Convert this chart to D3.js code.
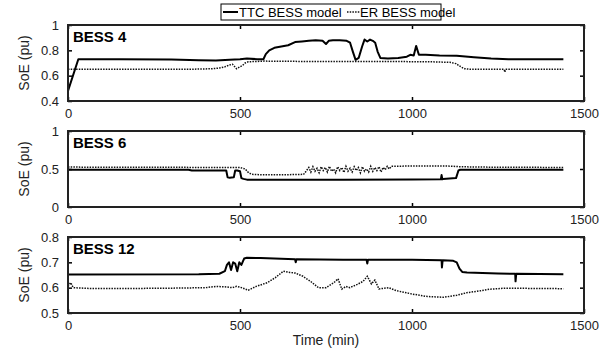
<!DOCTYPE html>
<html>
<head>
<meta charset="utf-8">
<script src="https://cdn.jsdelivr.net/npm/d3@7"></script>
<style>
  body { margin: 0; background: #fff; }
  svg { display: block; font-family: "Liberation Sans", Arial, sans-serif; }
</style>
</head>
<body>
<div id="chart"></div>
<script>
// x ticks shared by all panels
var timeTicks = [0, 500, 1000, 1500];

// BESS 4
var b4TtcT = [0, 30, 150, 300, 380, 430, 470, 500, 520, 550, 568, 575, 585, 600, 620, 640, 660, 680, 700, 720, 740, 750, 758, 770, 790, 810, 820, 828, 836, 845, 855, 862, 870, 878, 886, 893, 900, 908, 930, 960, 985, 995, 1005, 1012, 1020, 1040, 1080, 1130, 1180, 1230, 1280, 1440];
var b4TtcV = [0.48, 0.73, 0.73, 0.728, 0.722, 0.72, 0.725, 0.73, 0.735, 0.73, 0.73, 0.77, 0.8, 0.82, 0.83, 0.84, 0.865, 0.87, 0.875, 0.88, 0.875, 0.85, 0.875, 0.88, 0.88, 0.875, 0.86, 0.79, 0.725, 0.74, 0.83, 0.885, 0.87, 0.885, 0.875, 0.86, 0.79, 0.74, 0.735, 0.74, 0.75, 0.765, 0.76, 0.835, 0.765, 0.765, 0.76, 0.758, 0.745, 0.735, 0.73, 0.73];
var b4ErT = [0, 350, 420, 440, 456, 470, 478, 490, 500, 507, 515, 524, 545, 570, 700, 900, 1050, 1110, 1128, 1136, 1145, 1153, 1170, 1268, 1270, 1272, 1440];
var b4ErV = [0.65, 0.65, 0.655, 0.66, 0.67, 0.685, 0.69, 0.655, 0.67, 0.68, 0.7, 0.71, 0.712, 0.715, 0.712, 0.712, 0.71, 0.705, 0.695, 0.68, 0.665, 0.655, 0.65, 0.65, 0.628, 0.65, 0.65];
var b4Ticks = [0.4, 0.6, 0.8, 1];

// BESS 6
var b6TtcT = [0, 350, 360, 460, 464, 470, 482, 486, 492, 500, 504, 510, 520, 600, 800, 1000, 1084, 1086, 1088, 1090, 1128, 1135, 1140, 1250, 1440];
var b6TtcV = [0.49, 0.49, 0.48, 0.48, 0.39, 0.385, 0.39, 0.48, 0.48, 0.47, 0.38, 0.37, 0.36, 0.36, 0.358, 0.362, 0.365, 0.42, 0.365, 0.37, 0.38, 0.48, 0.49, 0.49, 0.49];
var b6ErT = [0, 480, 500, 515, 525, 535, 560, 640, 685, 692, 700, 706, 712, 718, 724, 730, 736, 742, 748, 754, 760, 766, 772, 778, 784, 790, 796, 802, 808, 814, 820, 826, 832, 838, 844, 850, 856, 862, 868, 874, 880, 886, 892, 898, 904, 910, 916, 922, 928, 934, 940, 1000, 1100, 1140, 1200, 1440];
var b6ErV = [0.525, 0.52, 0.52, 0.5, 0.45, 0.43, 0.425, 0.425, 0.43, 0.47, 0.52, 0.46, 0.53, 0.47, 0.51, 0.45, 0.53, 0.48, 0.52, 0.46, 0.535, 0.47, 0.5, 0.45, 0.53, 0.48, 0.52, 0.455, 0.535, 0.47, 0.51, 0.46, 0.53, 0.48, 0.52, 0.45, 0.53, 0.47, 0.5, 0.46, 0.535, 0.47, 0.52, 0.48, 0.53, 0.46, 0.52, 0.49, 0.535, 0.5, 0.535, 0.54, 0.54, 0.53, 0.525, 0.52];
var b6Ticks = [0, 0.5, 1];

// BESS 12
var b12TtcT = [0, 380, 440, 456, 462, 468, 474, 480, 486, 492, 498, 504, 512, 520, 560, 660, 662, 664, 800, 868, 870, 872, 1000, 1086, 1087, 1089, 1120, 1130, 1138, 1146, 1160, 1250, 1300, 1301, 1303, 1440];
var b12TtcV = [0.652, 0.653, 0.655, 0.665, 0.69, 0.7, 0.67, 0.7, 0.695, 0.665, 0.7, 0.69, 0.715, 0.718, 0.717, 0.712, 0.7, 0.712, 0.71, 0.71, 0.695, 0.71, 0.71, 0.708, 0.68, 0.708, 0.706, 0.7, 0.675, 0.662, 0.66, 0.656, 0.655, 0.625, 0.655, 0.653];
var b12ErT = [0, 8, 15, 60, 200, 300, 400, 430, 460, 478, 490, 505, 524, 547, 580, 603, 626, 645, 660, 683, 705, 728, 750, 773, 785, 796, 808, 819, 841, 858, 870, 882, 892, 904, 932, 955, 1000, 1045, 1091, 1130, 1159, 1200, 1227, 1272, 1350, 1440];
var b12ErV = [0.605, 0.62, 0.6, 0.597, 0.597, 0.598, 0.6, 0.605, 0.603, 0.6, 0.605, 0.6, 0.59, 0.605, 0.62, 0.64, 0.665, 0.66, 0.658, 0.645, 0.625, 0.6, 0.6, 0.62, 0.635, 0.594, 0.605, 0.6, 0.613, 0.625, 0.645, 0.615, 0.63, 0.595, 0.6, 0.588, 0.575, 0.565, 0.562, 0.57, 0.58, 0.588, 0.594, 0.598, 0.597, 0.596];
var b12Ticks = [0.5, 0.6, 0.7, 0.8];

var legendNames = ["TTC BESS model", "ER BESS model"];

var panels = [
  { name: "BESS 4", ttcT: b4TtcT, ttcV: b4TtcV, erT: b4ErT, erV: b4ErV, ticks: b4Ticks },
  { name: "BESS 6", ttcT: b6TtcT, ttcV: b6TtcV, erT: b6ErT, erV: b6ErV, ticks: b6Ticks },
  { name: "BESS 12", ttcT: b12TtcT, ttcV: b12TtcV, erT: b12ErT, erV: b12ErV, ticks: b12Ticks }
];

var W = 608, H = 351;
var left = 68, right = 584;
var panelTop = [25, 131, 237], panelH = 76;

var svg = d3.select("#chart").append("svg")
  .attr("width", W).attr("height", H);

var x = d3.scaleLinear().domain([0, 1500]).range([left, right]);

function zip(ts, vs) {
  return ts.map(function (t, i) { return { t: t, v: vs[i] }; });
}

panels.forEach(function (p, i) {
  var top = panelTop[i], bottom = top + panelH;
  var y = d3.scaleLinear().domain(d3.extent(p.ticks)).range([bottom, top]);
  var g = svg.append("g");

  var line = d3.line()
    .x(function (d) { return x(d.t); })
    .y(function (d) { return y(d.v); });

  // ER first (dotted) then TTC (solid)
  g.append("path")
    .attr("d", line(zip(p.erT, p.erV)))
    .attr("fill", "none").attr("stroke", "#111")
    .attr("stroke-width", 1.5).attr("stroke-dasharray", "1.5,1.2");
  g.append("path")
    .attr("d", line(zip(p.ttcT, p.ttcV)))
    .attr("fill", "none").attr("stroke", "#000")
    .attr("stroke-width", 2).attr("stroke-linejoin", "round");

  // axes, ticks pointing inwards like matlab
  var xb = g.append("g").attr("transform", "translate(0," + bottom + ")")
    .call(d3.axisBottom(x).tickValues(timeTicks).tickSizeInner(-4).tickSizeOuter(0).tickPadding(8).tickFormat(d3.format("d")));
  var xt = g.append("g").attr("transform", "translate(0," + top + ")")
    .call(d3.axisTop(x).tickValues(timeTicks).tickSizeInner(-4).tickSizeOuter(0).tickFormat(""));
  var yl = g.append("g").attr("transform", "translate(" + left + ",0)")
    .call(d3.axisLeft(y).tickValues(p.ticks).tickSizeInner(-4).tickSizeOuter(0).tickPadding(9).tickFormat(d3.format("")));
  var yr = g.append("g").attr("transform", "translate(" + right + ",0)")
    .call(d3.axisRight(y).tickValues(p.ticks).tickSizeInner(-4).tickSizeOuter(0).tickFormat(""));

  [xb, xt, yl, yr].forEach(function (a) {
    a.select(".domain").remove();
    a.selectAll("line").attr("stroke", "#000").attr("stroke-width", 1.5);
    a.selectAll("text").attr("fill", "#222").style("font-size", "13px");
  });

  g.append("rect")
    .attr("x", left).attr("y", top)
    .attr("width", right - left).attr("height", panelH)
    .attr("fill", "none").attr("stroke", "#222").attr("stroke-width", 2);

  g.append("text")
    .attr("x", left + 5).attr("y", top + 17)
    .attr("font-size", 15).attr("font-weight", "bold")
    .text(p.name);

  g.append("text")
    .attr("transform", "translate(24," + (top + panelH / 2) + ") rotate(-90)")
    .attr("text-anchor", "middle").attr("dy", "0.35em")
    .attr("font-size", 14).attr("fill", "#222")
    .text("SoE (pu)");
});

svg.append("text")
  .attr("x", (left + right) / 2).attr("y", 345)
  .attr("text-anchor", "middle").attr("font-size", 14).attr("fill", "#222")
  .text("Time (min)");

// legend box on top
var lg = svg.append("g").attr("transform", "translate(221,4)");
lg.append("rect").attr("width", 220).attr("height", 16)
  .attr("fill", "#fff").attr("stroke", "#000").attr("stroke-width", 1);
lg.append("line").attr("x1", 2).attr("x2", 17).attr("y1", 8).attr("y2", 8)
  .attr("stroke", "#000").attr("stroke-width", 2);
lg.append("text").attr("x", 18).attr("y", 13).attr("font-size", 13).text(legendNames[0]);
lg.append("line").attr("x1", 126).attr("x2", 139).attr("y1", 8).attr("y2", 8)
  .attr("stroke", "#111").attr("stroke-width", 1.5).attr("stroke-dasharray", "1.5,1.2");
lg.append("text").attr("x", 139).attr("y", 13).attr("font-size", 13).text(legendNames[1]);
</script>
</body>
</html>
